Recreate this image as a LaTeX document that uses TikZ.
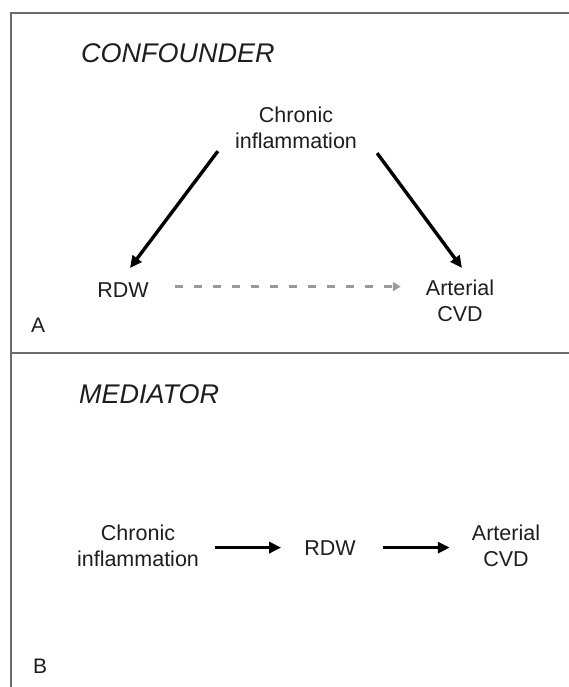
\documentclass[tikz,border=0pt]{standalone}
\usepackage{fontspec}
\setmainfont{Liberation Sans}
\usetikzlibrary{arrows.meta}
\definecolor{txt}{HTML}{1E1E1E}
\definecolor{frm}{HTML}{6A6A6A}
\definecolor{dgray}{HTML}{9A9A9A}
\begin{document}
\begin{tikzpicture}[x=1pt,y=-1pt,
  lbl/.style={inner sep=0pt, text=txt, font=\fontsize{21.5}{26}\selectfont, align=center},
  ttl/.style={inner sep=0pt, text=txt, font=\fontsize{27}{32}\selectfont\itshape, anchor=base west},
  tag/.style={inner sep=0pt, text=txt, font=\fontsize{21}{25}\selectfont, anchor=base west},
  arr/.style={line width=3.4pt, black, -{Triangle[length=12pt,width=11pt]}},
  dsh/.style={line width=2.4pt, dgray, dash pattern=on 8.5pt off 10.5pt, -{Triangle[length=8pt,width=9pt]}},
  frame/.style={line width=1.6pt, frm}
]
\useasboundingbox (0,0) rectangle (569,687);
\fill[white] (0,0) rectangle (569,687);
% frame
\draw[frame] (11,688) -- (11,13) -- (570,13);
\draw[frame] (11,353) -- (570,353);
% panel A
\node[ttl] (conf) at (81,63) {CONFOUNDER};
\node[lbl, anchor=north] (ci) at (296,107) {Chronic\\inflammation};
\node[lbl, anchor=base] (rdw) at (123,297) {RDW};
\node[lbl, anchor=north] (art) at (460,280) {Arterial\\CVD};
\node[tag] (a) at (31,332) {A};
\draw[arr] ([shift={(-17,2)}]ci.south west) -- ([shift={(7,-14)}]rdw.north);
\draw[arr] ([shift={(20,4)}]ci.south east) -- ([shift={(2,-12)}]art.north);
\draw[dsh] ([shift={(26,-3)}]rdw.east) -- ([shift={(-25,-3)}]art.west |- rdw.east);
% panel B
\node[ttl] (med) at (79,403) {MEDIATOR};
\node[lbl, anchor=north] (ci2) at (138,525) {Chronic\\inflammation};
\node[lbl, anchor=base] (rdw2) at (330,555) {RDW};
\node[lbl, anchor=north] (art2) at (506,525) {Arterial\\CVD};
\node[tag] (b) at (33,673) {B};
\draw[arr] ([xshift=16]ci2.east |- rdw2) -- ([xshift=-23]rdw2.west);
\draw[arr] ([xshift=27]rdw2.east) -- ([xshift=-22]art2.west |- rdw2);
\end{tikzpicture}
\end{document}
